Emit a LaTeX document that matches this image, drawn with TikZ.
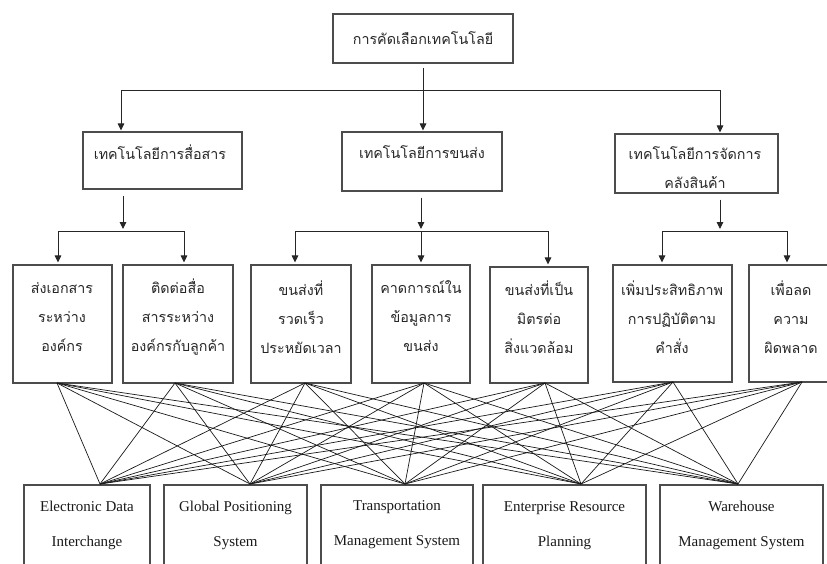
\documentclass[tikz,border=0pt]{standalone}
\usepackage{fontspec}
\setmainfont{Liberation Serif}
\newfontfamily\thaifont[Script=Thai]{Loma}
\usetikzlibrary{arrows.meta,calc}
\begin{document}
\begin{tikzpicture}[x=1pt,y=-1pt,
  box/.style={draw=black!70,line width=1.1pt,inner sep=0pt},
  th/.style={font=\thaifont\fontsize{14.3}{29}\selectfont,align=center,text=black!85,inner sep=0pt},
  en/.style={font=\fontsize{15}{35}\selectfont,align=center,text=black!90,inner sep=0pt},
  arr/.style={-{Triangle[length=7pt,width=6.5pt]},line width=1pt,draw=black!85},
  ln/.style={line width=1pt,draw=black!85},
  web/.style={line width=0.7pt,draw=black!90}]
\useasboundingbox (0,0) rectangle (827,563);
\clip (0,0) rectangle (827,563);

% top
\node[box,minimum width=180pt,minimum height=49pt] (top) at (423,38.5) {};
\node[th] (ttop) at (423,38) {การคัดเลือกเทคโนโลยี};

% level 2
\node[box,minimum width=159pt,minimum height=57pt] (l2a) at (162.5,160.5) {};
\node[box,minimum width=160pt,minimum height=59pt] (l2b) at (422,161.5) {};
\node[box,minimum width=163pt,minimum height=59pt] (l2c) at (696.5,163.5) {};
\node[th] (tl2a) at (160,152) {เทคโนโลยีการสื่อสาร};
\node[th] (tl2b) at (422,152) {เทคโนโลยีการขนส่ง};
\node[th] (tl2c) at (695,167.5) {เทคโนโลยีการจัดการ\\คลังสินค้า};

% level 3
\node[box,minimum width=99pt,minimum height=118pt] (c1) at (62.5,324) {};
\node[box,minimum width=110pt,minimum height=118pt] (c2) at (178,324) {};
\node[box,minimum width=100pt,minimum height=118pt] (c3) at (301,324) {};
\node[box,minimum width=98pt,minimum height=118pt] (c4) at (421,324) {};
\node[box,minimum width=98pt,minimum height=116pt] (c5) at (539,325) {};
\node[box,minimum width=119pt,minimum height=117pt] (c6) at (672.5,323.5) {};
\node[box,minimum width=85pt,minimum height=117pt] (c7) at (791.5,323.5) {};
\node[th] (tc1) at (62,317) {ส่งเอกสาร\\ระหว่าง\\องค์กร};
\node[th] (tc2) at (178,317) {ติดต่อสื่อ\\สารระหว่าง\\องค์กรกับลูกค้า};
\node[th] (tc3) at (301,317) {ขนส่งที่\\รวดเร็ว\\ประหยัดเวลา};
\node[th] (tc4) at (421,316) {คาดการณ์ใน\\ข้อมูลการ\\ขนส่ง};
\node[th] (tc5) at (539,317) {ขนส่งที่เป็น\\มิตรต่อ\\สิ่งแวดล้อม};
\node[th] (tc6) at (672,317) {เพิ่มประสิทธิภาพ\\การปฏิบัติตาม\\คำสั่ง};
\node[th] (tc7) at (791,317) {เพื่อลด\\ความ\\ผิดพลาด};

% bottom
\node[box,minimum width=126pt,minimum height=100pt] (d1) at (87,535) {};
\node[box,minimum width=143pt,minimum height=100pt] (d2) at (235.5,535) {};
\node[box,minimum width=152pt,minimum height=100pt] (d3) at (397,535) {};
\node[box,minimum width=163pt,minimum height=100pt] (d4) at (564.5,535) {};
\node[box,minimum width=163pt,minimum height=100pt] (d5) at (741.5,535) {};
\node[en] (td1) at (87,525) {Electronic Data\\Interchange};
\node[en] (td2) at (235.5,525) {Global Positioning\\System};
\node[en] (td3) at (397,525) {Transportation\\Management System};
\node[en] (td4) at (564.5,526) {Enterprise Resource\\Planning};
\node[en] (td5) at (741.5,525) {Warehouse\\Management System};

% arrows top -> level 2
\coordinate (h1l) at (121,90);
\coordinate (h1r) at (720,90);
\draw[ln] (h1l) -- (h1r);
\draw[arr,shorten <=4pt,shorten >=1pt] (top.south) -- (top.south |- l2b.north);
\draw[arr,shorten >=1pt] (h1l) -- (h1l |- l2a.north);
\draw[arr,shorten >=1pt] (h1r) -- (h1r |- l2c.north);

% level 2 -> level 3
\coordinate (h2a) at (123,231);
\coordinate (h2al) at (58,231);
\coordinate (h2ar) at (184,231);
\draw[arr,shorten <=6pt,shorten >=2pt] (h2a |- l2a.south) -- (h2a);
\draw[ln] (h2al) -- (h2ar);
\draw[arr,shorten >=2pt] (h2al) -- (h2al |- c1.north);
\draw[arr,shorten >=2pt] (h2ar) -- (h2ar |- c2.north);

\coordinate (h2b) at (421,231);
\coordinate (h2bl) at (295,231);
\coordinate (h2br) at (548,231);
\draw[arr,shorten <=6pt,shorten >=2pt] (h2b |- l2b.south) -- (h2b);
\draw[ln] (h2bl) -- (h2br);
\draw[arr,shorten >=2pt] (h2bl) -- (h2bl |- c3.north);
\draw[arr,shorten >=2pt] (h2b) -- (h2b |- c4.north);
\draw[arr,shorten >=2pt] (h2br) -- (h2br |- c5.north);

\coordinate (h2c) at (720,231);
\coordinate (h2cl) at (662,231);
\coordinate (h2cr) at (787,231);
\draw[arr,shorten <=6pt,shorten >=2pt] (h2c |- l2c.south) -- (h2c);
\draw[ln] (h2cl) -- (h2cr);
\draw[arr,shorten >=2pt] (h2cl) -- (h2cl |- c6.north);
\draw[arr,shorten >=2pt] (h2cr) -- (h2cr |- c7.north);

% web
\coordinate (p1) at (57,383);
\coordinate (p2) at (175,383);
\coordinate (p3) at (305,383);
\coordinate (p4) at (424,383);
\coordinate (p5) at (545,383);
\coordinate (p6) at (673,382);
\coordinate (p7) at (802,382);
\coordinate (q1) at (100,484);
\coordinate (q2) at (250,484);
\coordinate (q3) at (405,484);
\coordinate (q4) at (581,484);
\coordinate (q5) at (738,484);
\foreach \p in {p1,p2,p3,p4,p5,p6,p7}
  \foreach \q in {q1,q2,q3,q4,q5}
    \draw[web] (\p) -- (\q);
\end{tikzpicture}
\end{document}
